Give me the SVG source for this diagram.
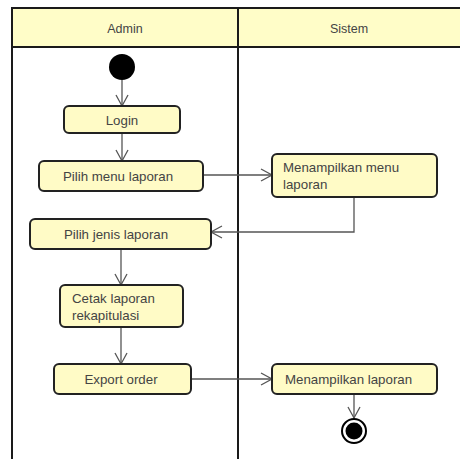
<svg xmlns="http://www.w3.org/2000/svg" width="460" height="459" viewBox="0 0 460 459">
<defs>
<style>
.lane{fill:none;stroke:#1a1a1a;stroke-width:2}
.hdr{fill:#fffdc8;stroke:#1a1a1a;stroke-width:2}
.box{fill:#fffbc6;stroke:#222;stroke-width:2}
.t{font-family:"Liberation Sans",Arial,sans-serif;font-size:13.3px;fill:#444}
.h{font-size:12.5px}
.c{text-anchor:middle}
.edge{fill:none;stroke:#555;stroke-width:1.3}
</style>
<marker id="arr" markerWidth="14" markerHeight="14" refX="12" refY="7" orient="auto" markerUnits="userSpaceOnUse">
<path d="M1,1 L12,7 L1,13" fill="none" stroke="#555" stroke-width="1.3"/>
</marker>
</defs>
<rect width="460" height="459" fill="#fff"/>
<g id="swimlanes">
<rect class="hdr" x="12" y="8" width="460" height="39"/>
<line class="lane" x1="12" y1="8" x2="12" y2="459"/>
<line class="lane" x1="238" y1="8" x2="238" y2="459"/>
<text class="t h c" x="125" y="33">Admin</text>
<text class="t h c" x="349" y="33">Sistem</text>
</g>
<g id="connectors">
<line class="edge" x1="122" y1="80" x2="122" y2="106" marker-end="url(#arr)"/>
<line class="edge" x1="122" y1="133" x2="122" y2="161" marker-end="url(#arr)"/>
<line class="edge" x1="203" y1="175" x2="272" y2="175" marker-end="url(#arr)"/>
<polyline class="edge" points="354,197 354,232 211,232" marker-end="url(#arr)"/>
<line class="edge" x1="121" y1="249" x2="121" y2="285" marker-end="url(#arr)"/>
<line class="edge" x1="121" y1="327" x2="121" y2="364" marker-end="url(#arr)"/>
<line class="edge" x1="191" y1="379" x2="272" y2="379" marker-end="url(#arr)"/>
<line class="edge" x1="354" y1="394" x2="354" y2="418" marker-end="url(#arr)"/>
</g>
<g id="start">
<circle cx="122" cy="67" r="13" fill="#000"/>
</g>
<g id="login">
<rect class="box" x="64" y="106" width="116" height="27" rx="5"/>
<text class="t c" x="122" y="125">Login</text>
</g>
<g id="pilih-menu">
<rect class="box" x="39" y="161" width="164" height="30" rx="5"/>
<text class="t c" x="118" y="181">Pilih menu laporan</text>
</g>
<g id="menampilkan-menu">
<rect class="box" x="272" y="154" width="165" height="43" rx="5"/>
<text class="t" x="283" y="172">Menampilkan menu</text>
<text class="t" x="283" y="189">laporan</text>
</g>
<g id="pilih-jenis">
<rect class="box" x="30" y="219" width="181" height="30" rx="5"/>
<text class="t c" x="116" y="239">Pilih jenis laporan</text>
</g>
<g id="cetak">
<rect class="box" x="60" y="285" width="123" height="42" rx="5"/>
<text class="t" x="72" y="303">Cetak laporan</text>
<text class="t" x="72" y="320">rekapitulasi</text>
</g>
<g id="export">
<rect class="box" x="54" y="364" width="137" height="30" rx="5"/>
<text class="t c" x="121" y="384">Export order</text>
</g>
<g id="menampilkan-laporan">
<rect class="box" x="272" y="364" width="165" height="30" rx="5"/>
<text class="t" x="285" y="384">Menampilkan laporan</text>
</g>
<g id="end">
<circle cx="354" cy="431" r="12" fill="#fff" stroke="#000" stroke-width="2"/>
<circle cx="354" cy="431" r="8.5" fill="#000"/>
</g>
</svg>
